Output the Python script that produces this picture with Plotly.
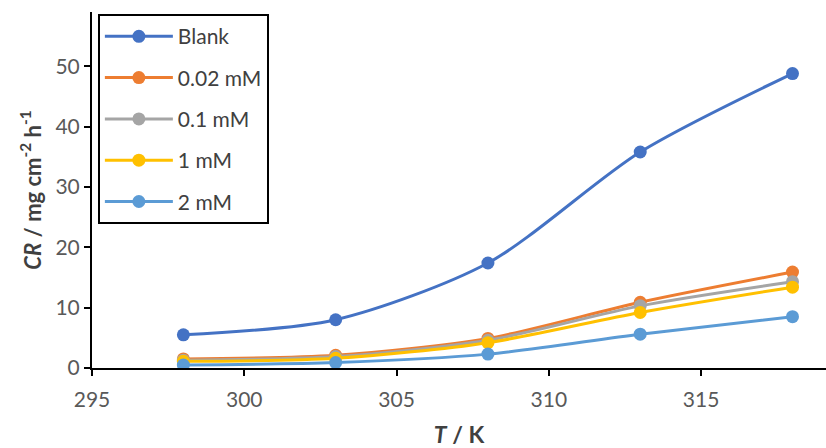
import plotly.graph_objects as go

T = [298, 303, 308, 313, 318]
series_names = ["Blank", "0.02 mM", "0.1 mM", "1 mM", "2 mM"]
blank = [5.5, 8.0, 17.4, 35.8, 48.8]
c002 = [1.5, 2.1, 4.9, 10.9, 15.9]
c01 = [1.3, 1.9, 4.6, 10.3, 14.3]
c1 = [1.1, 1.6, 4.2, 9.2, 13.4]
c2 = [0.5, 0.9, 2.3, 5.6, 8.5]
colors = ["#4472C4", "#ED7D31", "#A5A5A5", "#FFC000", "#5B9BD5"]

fig = go.Figure()
for name, vals, col in zip(series_names, [blank, c002, c01, c1, c2], colors):
    fig.add_trace(go.Scatter(
        x=T, y=vals, name=name, legendgroup=name,
        mode="lines+markers",
        line=dict(color=col, width=3, shape="spline", smoothing=0.8),
        marker=dict(color=col, size=13),
    ))

font_family = "Lato, 'Liberation Sans', Arial, sans-serif"
fig.update_layout(
    width=826, height=448,
    margin=dict(l=92, r=0, t=12, b=80),
    paper_bgcolor="white", plot_bgcolor="white",
    font=dict(family=font_family, size=21, color="#595959"),
    showlegend=True,
    legend=dict(
        x=0.008, y=0.994, xanchor="left", yanchor="top",
        bordercolor="black", borderwidth=2, bgcolor="white",
        font=dict(size=21, color="#404040"),
        tracegroupgap=11, itemwidth=68,
    ),
    xaxis=dict(
        range=[295, 319.1], tickvals=[295, 300, 305, 310, 315],
        showgrid=False, zeroline=False,
        showline=True, linecolor="black", linewidth=2,
        ticks="outside", ticklen=6, tickcolor="black", tickwidth=1.5,
        ticklabelstandoff=6,
        title=dict(text="<b><i>T</i> / K</b>", font=dict(size=23, color="#404040"), standoff=17),
    ),
    yaxis=dict(
        range=[0, 59], tickvals=[0, 10, 20, 30, 40, 50],
        showgrid=False, zeroline=False,
        showline=True, linecolor="black", linewidth=2,
        ticks="outside", ticklen=6, tickcolor="black", tickwidth=1.5,
        title=dict(text="<b><i>CR</i> / mg cm<sup>-2</sup> h<sup>-1</sup></b>", font=dict(size=22, color="#404040"), standoff=8),
    ),
)

fig.write_html("out.html")
